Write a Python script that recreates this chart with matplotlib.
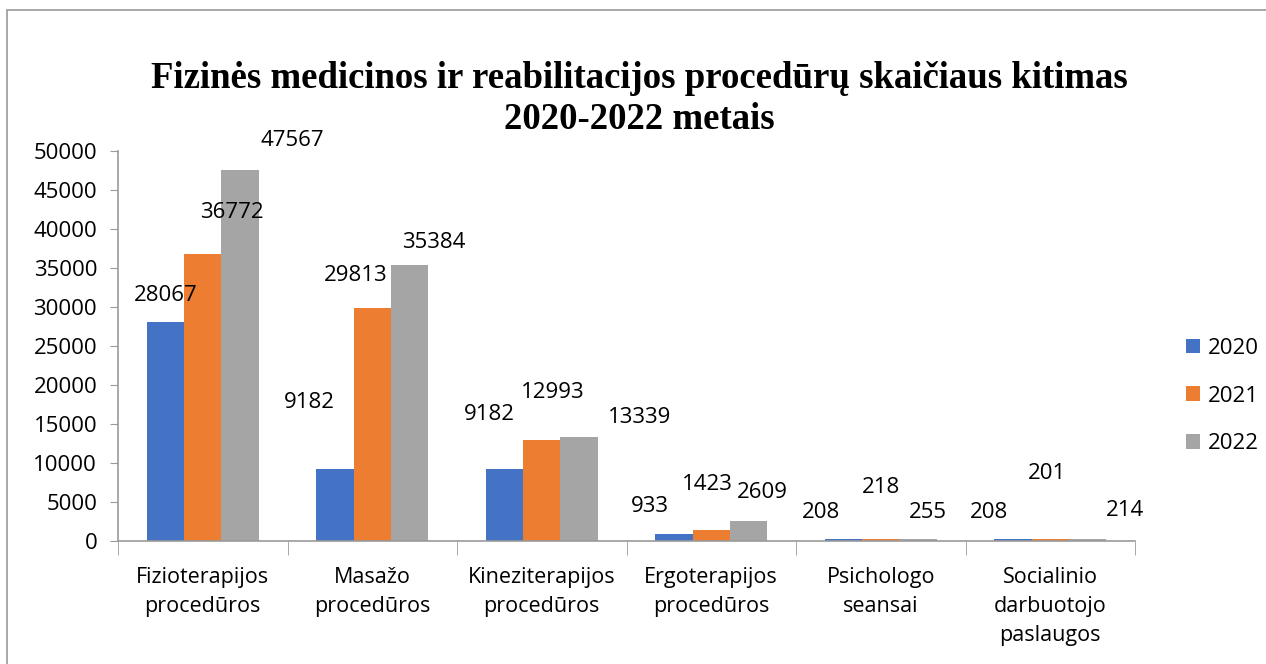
import matplotlib.pyplot as plt
import numpy as np
from matplotlib.patches import Rectangle

categories = [
    "Fizioterapijos\nprocedūros",
    "Masažo\nprocedūros",
    "Kineziterapijos\nprocedūros",
    "Ergoterapijos\nprocedūros",
    "Psichologo\nseansai",
    "Socialinio\ndarbuotojo\npaslaugos",
]
years = ["2020", "2021", "2022"]
v2020 = [28067, 9182, 9182, 933, 208, 208]
v2021 = [36772, 29813, 12993, 1423, 218, 201]
v2022 = [47567, 35384, 13339, 2609, 255, 214]

# where the value labels sit (offset from category centre, height in data units)
label_dx = [
    [-0.22, 0.17, 0.53],
    [-0.37, -0.10, 0.36],
    [-0.31, 0.065, 0.58],
    [-0.36, -0.02, 0.30],
    [-0.35, 0.0, 0.28],
    [-0.36, -0.02, 0.44],
]
label_y = [
    [31500, 42100, 51400],
    [17700, 34100, 38300],
    [16200, 19100, 15800],
    [4400, 7200, 6200],
    [3700, 6800, 3700],
    [3700, 8600, 3900],
]

colors = ["#4472C4", "#ED7D31", "#A5A5A5"]
grey = "#9a9a9a"
plt.rcParams["font.family"] = ["Open Sans", "DejaVu Sans"]

fig = plt.figure(figsize=(12.66, 6.64), dpi=100)
ax = fig.add_axes([118 / 1266, 1 - 541 / 664, (1135 - 118) / 1266, (541 - 151) / 664])

x = np.arange(len(categories))
w = 0.22
series = [v2020, v2021, v2022]
for k, vals in enumerate(series):
    ax.bar(x + (k - 1) * w, vals, width=w, color=colors[k], label=years[k])

for i in range(len(categories)):
    for k, vals in enumerate(series):
        ax.text(x[i] + label_dx[i][k], label_y[i][k], str(vals[i]),
                ha="center", va="center", fontsize=16, color="black")

ax.set_xlim(-0.5, len(categories) - 0.5)
ax.set_ylim(0, 50000)
ax.set_yticks(np.arange(0, 50001, 5000))
ax.tick_params(axis="y", labelsize=16, length=6, color=grey, pad=9)

ax.set_xticks(x)
ax.set_xticklabels(categories, fontsize=15.5, linespacing=1.5)
ax.set_xticks(np.arange(-0.5, len(categories), 1), minor=True)
ax.tick_params(axis="x", which="major", length=0, pad=19)
ax.tick_params(axis="x", which="minor", length=10, color=grey)

for s in ["top", "right"]:
    ax.spines[s].set_visible(False)
for s in ["left", "bottom"]:
    ax.spines[s].set_color(grey)
    ax.spines[s].set_linewidth(1.2)

fig.legend(loc="center left", bbox_to_anchor=(1166 / 1266, 1 - 396 / 664),
           frameon=False, fontsize=16, handlelength=0.65, handleheight=0.65,
           handletextpad=0.35, labelspacing=1.2)

title_lines = ["Fizinės medicinos ir reabilitacijos procedūrų skaičiaus kitimas",
               "2020-2022 metais"]
for line, base in zip(title_lines, [88, 129]):
    fig.text(0.505, 1 - base / 664, line, ha="center", va="baseline",
             fontsize=26.5, fontweight="bold", family="Liberation Serif")

fig.patches.append(Rectangle((7 / 1266, -0.5), 2, 1.5 - 10 / 664, transform=fig.transFigure,
                             fill=False, edgecolor=grey, linewidth=1.2))

fig.savefig("out.png", dpi=100)
